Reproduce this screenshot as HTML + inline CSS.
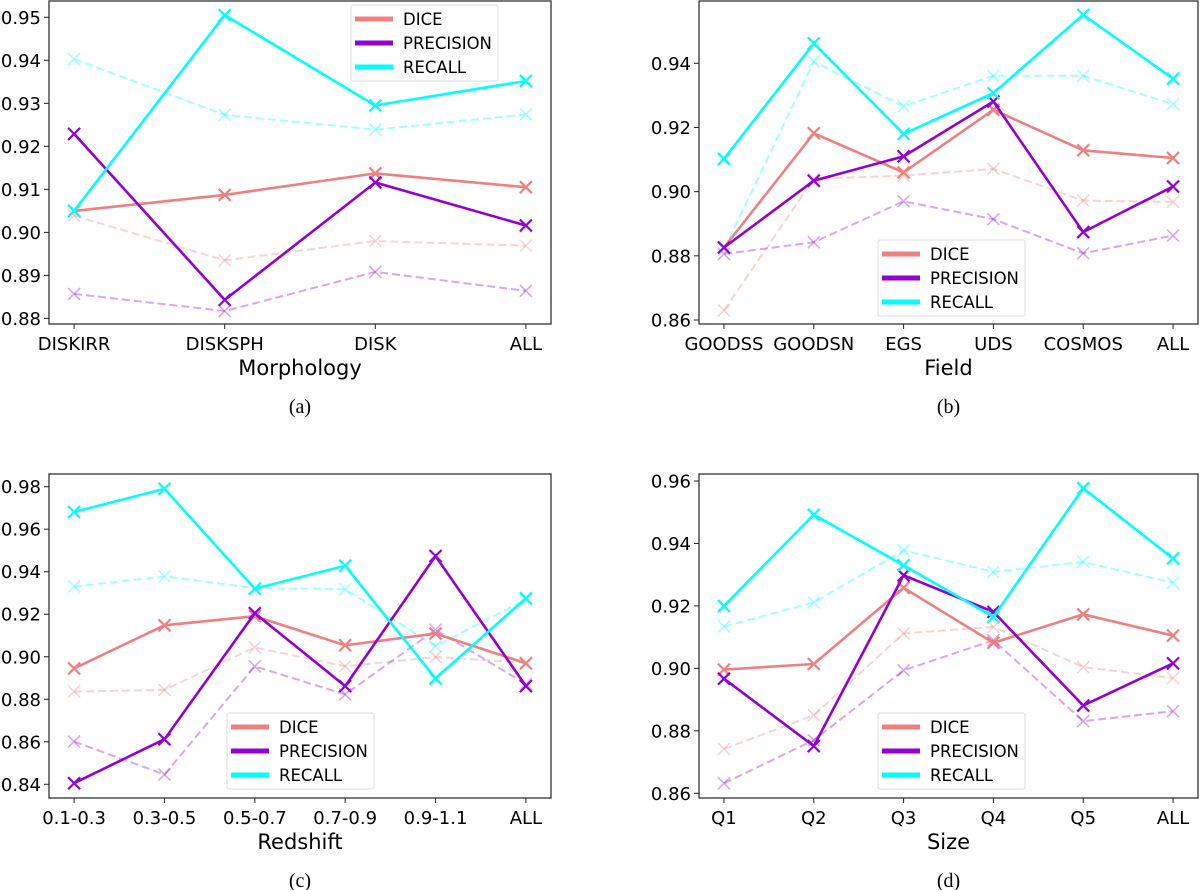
<!DOCTYPE html>
<html><head><meta charset="utf-8"><style>
html,body{margin:0;padding:0;background:#fff;}
svg{display:block;font-family:"DejaVu Sans","Liberation Sans",sans-serif;}
</style></head><body>
<svg id="fig" width="1200" height="890" viewBox="0 0 1200 890" xmlns="http://www.w3.org/2000/svg"></svg>
<script>
// ---- data ----
const catsA = ["DISKIRR","DISKSPH","DISK","ALL"];
const diceA = [0.905,0.9087,0.9137,0.9105];
const precA = [0.9229,0.8843,0.9116,0.9016];
const recA  = [0.905,0.9505,0.9295,0.9352];
const diceA2 = [0.9039,0.8935,0.898,0.8969];
const precA2 = [0.8857,0.8817,0.8908,0.8864];
const recA2  = [0.9403,0.9273,0.9239,0.9274];
const ticksA = [0.88,0.89,0.90,0.91,0.92,0.93,0.94,0.95];

const catsB = ["GOODSS","GOODSN","EGS","UDS","COSMOS","ALL"];
const diceB = [0.8826,0.9182,0.906,0.9255,0.9129,0.9105];
const precB = [0.8826,0.9034,0.911,0.9281,0.8874,0.9016];
const recB  = [0.9102,0.9462,0.918,0.9307,0.9551,0.9352];
const diceB2 = [0.863,0.904,0.905,0.9071,0.8972,0.8968];
const precB2 = [0.8806,0.8842,0.897,0.8914,0.8808,0.8863];
const recB2  = [0.882,0.9405,0.9266,0.9361,0.9361,0.9273];
const ticksB = [0.86,0.88,0.90,0.92,0.94];

const catsC = ["0.1-0.3","0.3-0.5","0.5-0.7","0.7-0.9","0.9-1.1","ALL"];
const diceC = [0.8945,0.9148,0.9191,0.9054,0.9109,0.8969];
const precC = [0.8405,0.8612,0.9205,0.8862,0.9474,0.8862];
const recC  = [0.9681,0.979,0.932,0.9428,0.8898,0.9275];
const diceC2 = [0.8836,0.8844,0.9044,0.8955,0.8999,0.8972];
const precC2 = [0.8601,0.8446,0.8955,0.8823,0.9127,0.8872];
const recC2  = [0.933,0.9378,0.9323,0.9318,0.905,0.927];
const ticksC = [0.84,0.86,0.88,0.90,0.92,0.94,0.96,0.98];

const catsD = ["Q1","Q2","Q3","Q4","Q5","ALL"];
const diceD = [0.8996,0.9014,0.9258,0.9082,0.9173,0.9105];
const precD = [0.8967,0.8751,0.9298,0.9181,0.8881,0.9016];
const recD  = [0.92,0.9492,0.933,0.9165,0.9577,0.9352];
const diceD2 = [0.8742,0.885,0.9112,0.9133,0.9004,0.8969];
const precD2 = [0.8632,0.877,0.8994,0.909,0.8831,0.8863];
const recD2  = [0.9134,0.9211,0.9378,0.9309,0.9341,0.9274];
const ticksD = [0.86,0.88,0.90,0.92,0.94,0.96];

const NS="http://www.w3.org/2000/svg";
const svg=document.getElementById('fig');
function mk(tag,attrs,parent){const e=document.createElementNS(NS,tag);for(const k in attrs)e.setAttribute(k,attrs[k]);(parent||svg).appendChild(e);return e;}
const COL={dice:"#f08080",prec:"#9400d3",rec:"#00ffff"};

function panel(o){
  const g=mk('g',{});
  
  
  const L=o.left,R=o.right,T=o.top,B=o.bottom,W=R-L;
  const n=o.cats.length;
  const xs=i=>L+W*(0.05+0.9*i/(n-1))/1.0;
  const ys=v=>o.y0px+(v-o.v0)*(o.y1px-o.y0px)/(o.v1-o.v0);
  // series
  const series=[
    [o.dice2,COL.dice,true,'dice-baseline'],[o.prec2,COL.prec,true,'precision-baseline'],[o.rec2,COL.rec,true,'recall-baseline'],
    [o.dice,COL.dice,false,'dice'],[o.prec,COL.prec,false,'precision'],[o.rec,COL.rec,false,'recall']];
  const sg=mk('g',{},g);
  for(const [vals,c,dash,nm] of series){
    const pts=vals.map((v,i)=>xs(i).toFixed(1)+','+ys(v).toFixed(1)).join(' ');
    const pl=mk('polyline',{points:pts,fill:'none',stroke:c,'stroke-width':dash?2:2.6,'stroke-dasharray':dash?'8,4':'none',opacity:dash?0.35:1},sg);
    
    
    vals.forEach((v,i)=>{
      const x=xs(i),y=ys(v),s=6;
      const m=mk('path',{d:`M${x-s},${y-s}L${x+s},${y+s}M${x-s},${y+s}L${x+s},${y-s}`,stroke:c,'stroke-width':dash?1.6:2.2,opacity:dash?0.35:1,fill:'none'},sg);
      
      
    });
  }
  // frame
  const fr=mk('rect',{x:L,y:T,width:W,height:B-T,fill:'none',stroke:'#222','stroke-width':1.2},g);
  
  
  // y ticks
  o.ticks.forEach(t=>{
    const y=ys(t);
    mk('line',{x1:L-5,x2:L,y1:y,y2:y,stroke:'#222','stroke-width':1},g);
    const tx=mk('text',{x:L-8,y:y+6.5,'text-anchor':'end','font-size':18,fill:'#000'},g);
    tx.textContent=t.toFixed(2);
    
    
  });
  // x ticks
  o.cats.forEach((c,i)=>{
    const x=xs(i);
    mk('line',{x1:x,x2:x,y1:B,y2:B+5,stroke:'#222','stroke-width':1},g);
    const tx=mk('text',{x:x,y:B+26,'text-anchor':'middle','font-size':18,fill:'#000'},g);
    tx.textContent=c;
    
    
  });
  const xt=mk('text',{x:(L+R)/2,y:B+51,'text-anchor':'middle','font-size':21,fill:'#000'},g);
  xt.textContent=o.xlabel;
  
  
  const cap=mk('text',{x:(L+R)/2,y:B+89,'text-anchor':'middle','font-size':20,fill:'#000','font-family':'"Liberation Serif",serif'},g);
  cap.textContent=o.caption;
  
  
  // legend
  const lg=mk('g',{},g);
  
  
  mk('rect',{x:o.lx,y:o.ly,width:147,height:76,fill:'#fff','fill-opacity':0.85,stroke:'#ddd','stroke-width':1,rx:2},lg);
  [['DICE',COL.dice],['PRECISION',COL.prec],['RECALL',COL.rec]].forEach((e,k)=>{
    const yy=o.ly+14+k*24;
    const ee=mk('g',{},lg);
    
    
    mk('line',{x1:o.lx+4,x2:o.lx+42,y1:yy,y2:yy,stroke:e[1],'stroke-width':5},ee);
    const t=mk('text',{x:o.lx+52,y:yy+6,'font-size':16.5,fill:'#000'},ee);
    t.textContent=e[0];
  });
}

panel({id:'a',cats:catsA,dice:diceA,prec:precA,rec:recA,dice2:diceA2,prec2:precA2,rec2:recA2,ticks:ticksA,
  left:49,right:551,top:1,bottom:324,v0:0.95,y0px:17.3,v1:0.88,y1px:318.4,xlabel:'Morphology',caption:'(a)',lx:351,ly:5});
panel({id:'b',cats:catsB,dice:diceB,prec:precB,rec:recB,dice2:diceB2,prec2:precB2,rec2:recB2,ticks:ticksB,
  left:699,right:1198,top:1,bottom:324,v0:0.94,y0px:63.3,v1:0.86,y1px:320,xlabel:'Field',caption:'(b)',lx:878,ly:240});
panel({id:'c',cats:catsC,dice:diceC,prec:precC,rec:recC,dice2:diceC2,prec2:precC2,rec2:recC2,ticks:ticksC,
  left:49,right:551,top:474,bottom:798,v0:0.98,y0px:486.7,v1:0.84,y1px:784.3,xlabel:'Redshift',caption:'(c)',lx:227,ly:713});
panel({id:'d',cats:catsD,dice:diceD,prec:precD,rec:recD,dice2:diceD2,prec2:precD2,rec2:recD2,ticks:ticksD,
  left:699,right:1198,top:474,bottom:798,v0:0.96,y0px:481,v1:0.86,y1px:793.3,xlabel:'Size',caption:'(d)',lx:878,ly:713});
</script>
</body></html>
